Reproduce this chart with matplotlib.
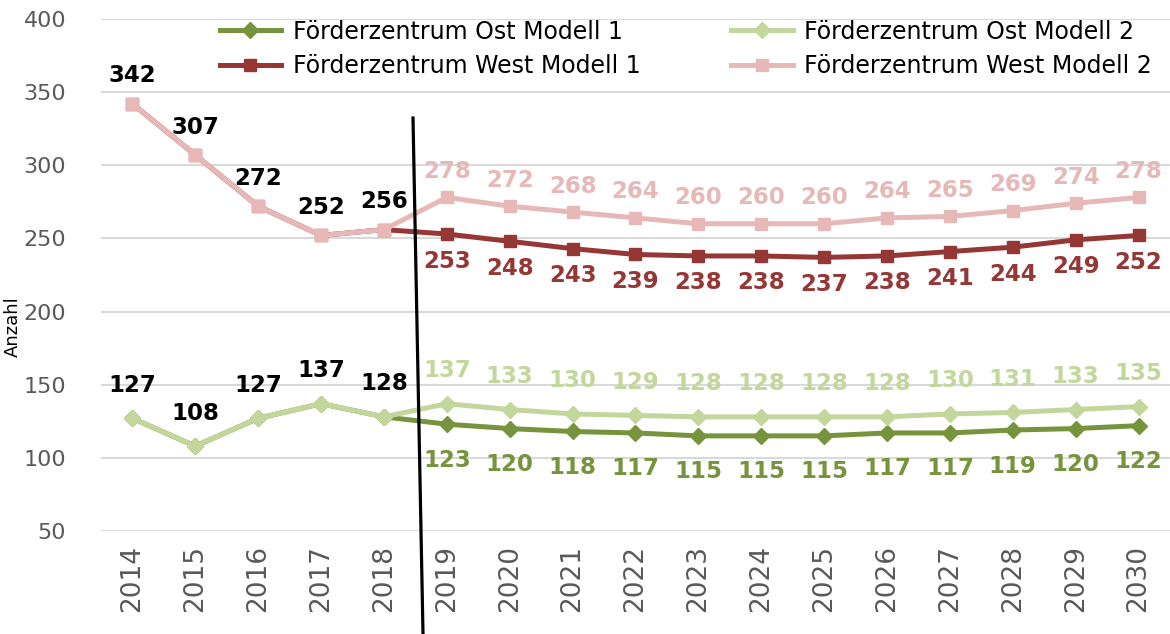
import numpy as np
import matplotlib.pyplot as plt
from matplotlib.lines import Line2D

plt.rcParams['font.family'] = 'DejaVu Sans'

# --- data ---
years = [str(y) for y in range(2014, 2031)]
hist_n = 5  # 2014-2018 observed

west_m1 = [342, 307, 272, 252, 256, 253, 248, 243, 239, 238, 238, 237, 238, 241, 244, 249, 252]
west_m2 = [342, 307, 272, 252, 256, 278, 272, 268, 264, 260, 260, 260, 264, 265, 269, 274, 278]
ost_m1 = [127, 108, 127, 137, 128, 123, 120, 118, 117, 115, 115, 115, 117, 117, 119, 120, 122]
ost_m2 = [127, 108, 127, 137, 128, 137, 133, 130, 129, 128, 128, 128, 128, 130, 131, 133, 135]

c_ost1, c_ost2 = '#77933C', '#C3D69B'
c_west1, c_west2 = '#953735', '#E6B9B8'

fig = plt.figure(figsize=(11.7, 6.34), dpi=100)
ax = fig.add_axes([0.0863, 0.1625, 0.9137, 0.8076])
x = np.arange(len(years))

lw = 3.6
ax.plot(x, ost_m1, color=c_ost1, lw=lw, marker='D', ms=8, label='Förderzentrum Ost Modell 1', zorder=3)
ax.plot(x, west_m1, color=c_west1, lw=lw, marker='s', ms=9, label='Förderzentrum West Modell 1', zorder=3)
ax.plot(x, ost_m2, color=c_ost2, lw=lw, marker='D', ms=8, label='Förderzentrum Ost Modell 2', zorder=4)
ax.plot(x, west_m2, color=c_west2, lw=lw, marker='s', ms=9, label='Förderzentrum West Modell 2', zorder=4)

lab = dict(fontsize=16.5, fontweight='bold', ha='center', va='center',
           textcoords='offset pixels')

# observed years: black labels above
for i in range(hist_n):
    ax.annotate(str(west_m2[i]), (x[i], west_m2[i]), xytext=(0, 28), color='black', **lab)
    ax.annotate(str(ost_m2[i]), (x[i], ost_m2[i]), xytext=(0, 33), color='black', **lab)

# projections: model 2 above, model 1 below
for i in range(hist_n, len(years)):
    ax.annotate(str(west_m2[i]), (x[i], west_m2[i]), xytext=(0, 26), color=c_west2, **lab)
    ax.annotate(str(west_m1[i]), (x[i], west_m1[i]), xytext=(0, -27), color=c_west1, **lab)
    ax.annotate(str(ost_m2[i]), (x[i], ost_m2[i]), xytext=(0, 33), color=c_ost2, **lab)
    ax.annotate(str(ost_m1[i]), (x[i], ost_m1[i]), xytext=(0, -36), color=c_ost1, **lab)

ax.set_xlim(-0.5, len(years) - 0.5)
ax.set_ylim(50, 400)
ax.set_yticks(range(50, 401, 50))
ax.set_xticks(x)
ax.set_xticklabels(years, rotation=90, fontsize=19, color='#595959')
ax.tick_params(axis='y', labelsize=16, labelcolor='#595959', length=0, pad=25)
ax.tick_params(axis='x', length=0, pad=10)
ax.grid(axis='y', color='#D9D9D9', lw=1.5)
ax.set_axisbelow(True)
for s in ax.spines.values():
    s.set_visible(False)
ax.set_ylabel('Anzahl', fontsize=13)
ax.yaxis.set_label_coords(-0.074, 0.4)

ax.legend(ncol=2, loc='upper left', bbox_to_anchor=(0.091, 1.04), frameon=False,
          fontsize=17, handlelength=2.6, columnspacing=3.85, labelspacing=0.45,
          handletextpad=0.5)

# boundary between observed and projected years
fig.add_artist(Line2D([413 / 1170, 423 / 1170], [1 - 118 / 634, 0.0],
                      color='black', lw=2.3, transform=fig.transFigure))

fig.savefig('out.png', dpi=100)
